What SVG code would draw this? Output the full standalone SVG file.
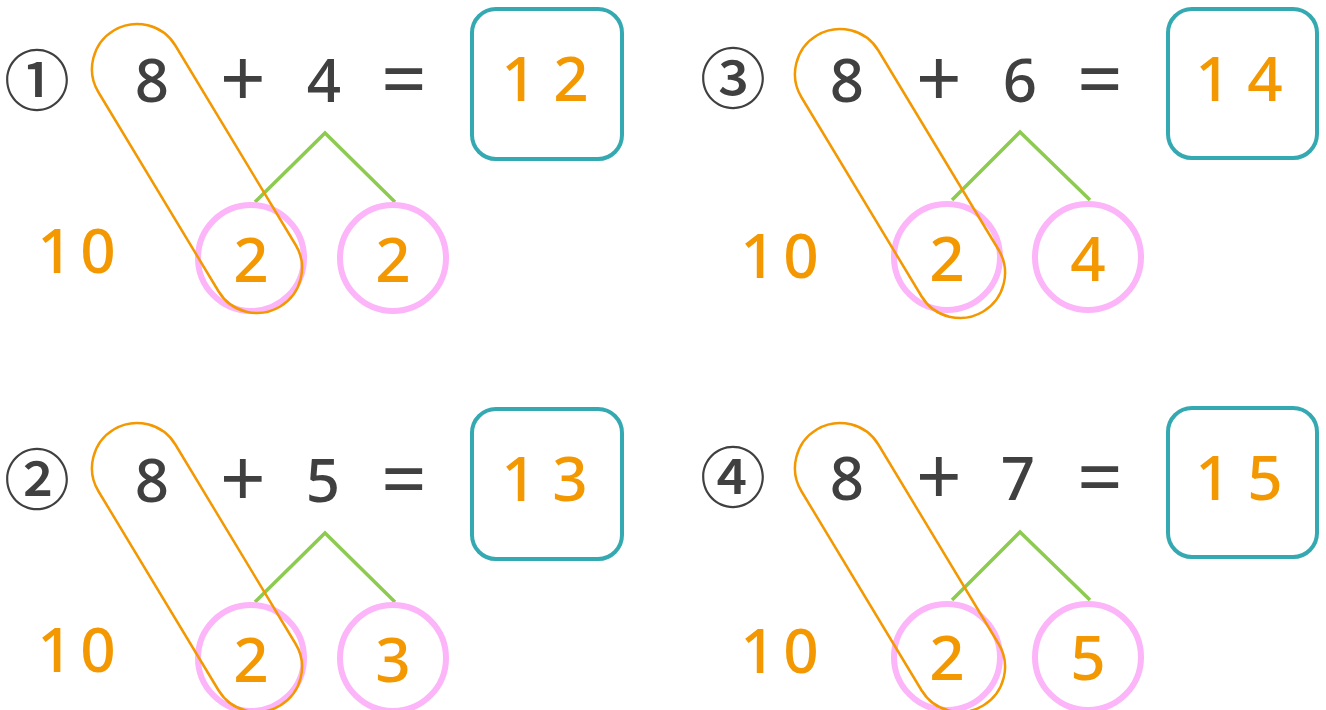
<svg xmlns="http://www.w3.org/2000/svg" width="1326" height="710" viewBox="0 0 1326 710">
<style>
.num{font-family:"Noto Sans","Liberation Sans",sans-serif;text-anchor:middle;font-weight:500}
.blk{fill:#404040;font-size:60px}
.op{fill:#404040;font-size:80px;font-weight:400}
.org{fill:#F39800;font-size:62px}
.circ{font-family:"Noto Sans CJK JP","Noto Sans",sans-serif;fill:#404040;font-size:66px;text-anchor:middle;font-weight:500}
.box{fill:none;stroke:#34A9B1;stroke-width:4}
.pink{fill:none;stroke:#FBB5F8;stroke-width:6}
.cap{fill:none;stroke:#F39800;stroke-width:2.5}
.link{fill:none;stroke:#8CCB50;stroke-width:3.5}
</style>
<defs>
<rect id="capsule" x="-161.2" y="-45" width="322.4" height="90" rx="45" ry="45"/>
</defs>
<rect width="1326" height="710" fill="#fff"/>

<g id="connectors">
<polyline class="link" points="255,202 325,133 395,202"/>
<polyline class="link" points="952,200 1020,132 1090,200"/>
<polyline class="link" points="255,602 325,533 395,602"/>
<polyline class="link" points="952,600 1020,532 1090,600"/>
</g>

<!-- Problem 1 -->
<g id="p1-label"><text class="circ" x="37" y="105">①</text></g>
<g id="p1-expr">
<text class="num blk" x="152" y="102">8</text>
<text class="num op" x="243" y="107">+</text>
<text class="num blk" x="324" y="102">4</text>
<text class="num op" x="404" y="107">=</text>
</g>
<g id="p1-answer"><rect class="box" x="472" y="9" width="150" height="150" rx="24"/><text class="num org" x="519 571" y="101">12</text></g>
<g id="p1-ten"><text class="num org" x="55 98" y="273">10</text></g>
<g id="p1-left"><circle class="pink" cx="251" cy="258" r="53"/><text class="num org" x="251" y="282">2</text></g>
<g id="p1-right"><circle class="pink" cx="393" cy="258" r="53"/><text class="num org" x="393" y="282">2</text></g>
<g id="p1-group"><use href="#capsule" class="cap" transform="translate(197,168.5) rotate(58.9)"/></g>

<!-- Problem 3 -->
<g id="p3-label"><text class="circ" x="733" y="103">③</text></g>
<g id="p3-expr">
<text class="num blk" x="847" y="102">8</text>
<text class="num op" x="939" y="107">+</text>
<text class="num blk" x="1020" y="102">6</text>
<text class="num op" x="1100" y="107">=</text>
</g>
<g id="p3-answer"><rect class="box" x="1168" y="9" width="149" height="149" rx="24"/><text class="num org" x="1213 1265" y="101">14</text></g>
<g id="p3-ten"><text class="num org" x="758 801" y="278">10</text></g>
<g id="p3-left"><circle class="pink" cx="947" cy="257" r="53"/><text class="num org" x="947" y="281">2</text></g>
<g id="p3-right"><circle class="pink" cx="1088" cy="257" r="53"/><text class="num org" x="1088" y="281">4</text></g>
<g id="p3-group"><use href="#capsule" class="cap" transform="translate(900,173.5) rotate(58.9)"/></g>

<!-- Problem 2 -->
<g id="p2-label"><text class="circ" x="37" y="504">②</text></g>
<g id="p2-expr">
<text class="num blk" x="152" y="502">8</text>
<text class="num op" x="243" y="507">+</text>
<text class="num blk" x="323" y="502">5</text>
<text class="num op" x="404" y="507">=</text>
</g>
<g id="p2-answer"><rect class="box" x="472" y="409" width="150" height="150" rx="24"/><text class="num org" x="519 570" y="501">13</text></g>
<g id="p2-ten"><text class="num org" x="55 98" y="672">10</text></g>
<g id="p2-left"><circle class="pink" cx="251" cy="658" r="53"/><text class="num org" x="251" y="682">2</text></g>
<g id="p2-right"><circle class="pink" cx="393" cy="658" r="53"/><text class="num org" x="393" y="682">3</text></g>
<g id="p2-group"><use href="#capsule" class="cap" transform="translate(197,567.5) rotate(58.9)"/></g>

<!-- Problem 4 -->
<g id="p4-label"><text class="circ" x="733" y="502">④</text></g>
<g id="p4-expr">
<text class="num blk" x="847" y="500">8</text>
<text class="num op" x="939" y="505">+</text>
<text class="num blk" x="1018" y="500">7</text>
<text class="num op" x="1100" y="505">=</text>
</g>
<g id="p4-answer"><rect class="box" x="1168" y="408" width="149" height="149" rx="24"/><text class="num org" x="1213 1265" y="500">15</text></g>
<g id="p4-ten"><text class="num org" x="758 801" y="673">10</text></g>
<g id="p4-left"><circle class="pink" cx="947" cy="657" r="53"/><text class="num org" x="947" y="680">2</text></g>
<g id="p4-right"><circle class="pink" cx="1088" cy="657" r="53"/><text class="num org" x="1088" y="680">5</text></g>
<g id="p4-group"><use href="#capsule" class="cap" transform="translate(900,567.5) rotate(58.9)"/></g>
</svg>
